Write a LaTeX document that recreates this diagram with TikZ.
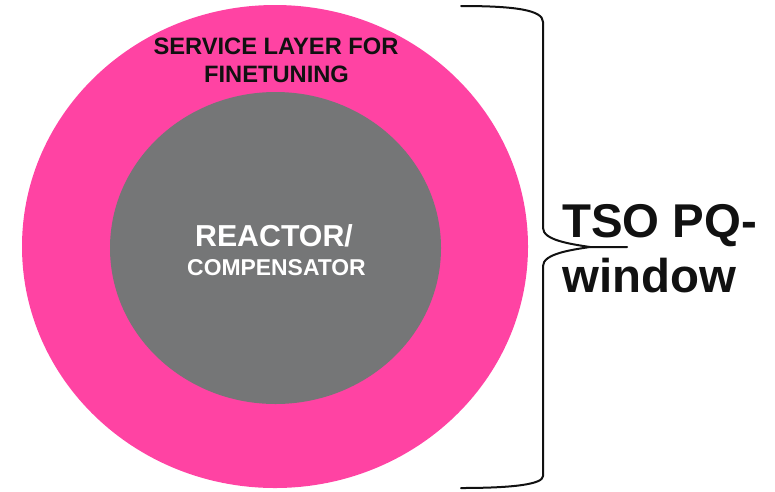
\documentclass[tikz,border=0pt]{standalone}
\usepackage{fontspec}
\setmainfont{Liberation Sans}
\usetikzlibrary{shapes.geometric}
\definecolor{pinkring}{HTML}{FF43A3}
\definecolor{coregray}{HTML}{757677}
\definecolor{txtblack}{HTML}{111111}
\begin{document}
\begin{tikzpicture}[x=1pt,y=-1pt,
  ring/.style={ellipse, inner sep=0pt, draw=none},
  lbl/.style={anchor=base, inner sep=0pt, font=\bfseries},
  bracepath/.style={line width=2pt, draw=txtblack, line cap=round, line join=round}]
\useasboundingbox (0,0) rectangle (775,491);
\node[ring, fill=pinkring, minimum width=506pt, minimum height=483pt] (outer) at (275,246.5) {};
\node[ring, fill=coregray, minimum width=331pt, minimum height=312pt] (inner) at (275.5,248) {};
\node[lbl, text=txtblack, font=\bfseries\fontsize{23.7}{28}\selectfont] (svc1) at (276,54) {SERVICE LAYER FOR};
\node[lbl, text=txtblack, font=\bfseries\fontsize{23.7}{28}\selectfont] (svc2) at (276.5,82) {FINETUNING};
\node[lbl, text=white, font=\bfseries\fontsize{30.3}{34}\selectfont] (rc1) at (274,246.7) {REACTOR/};
\node[lbl, text=white, font=\bfseries\fontsize{22.9}{27}\selectfont] (rc2) at (276.5,275) {COMPENSATOR};
\node[lbl, anchor=base west, text=txtblack, font=\bfseries\fontsize{47.4}{55}\selectfont] (tso1) at (562,237) {TSO PQ-};
\node[lbl, anchor=base west, text=txtblack, font=\bfseries\fontsize{47.4}{55}\selectfont] (tso2) at (562,292) {window};
\coordinate (btop) at (461,6);
\coordinate (bbot) at (461,488);
\coordinate (btip) at (627,247);
\draw[bracepath] (btop) .. controls (515,6) and (543,10) .. (543,22) -- (543,228)
   .. controls (543,240) and (570,244) .. (590,247) -- (btip);
\draw[bracepath] (590,247) .. controls (570,250) and (543,254) .. (543,266) -- (543,476)
   .. controls (543,484) and (515,488) .. (bbot);
\end{tikzpicture}
\end{document}
